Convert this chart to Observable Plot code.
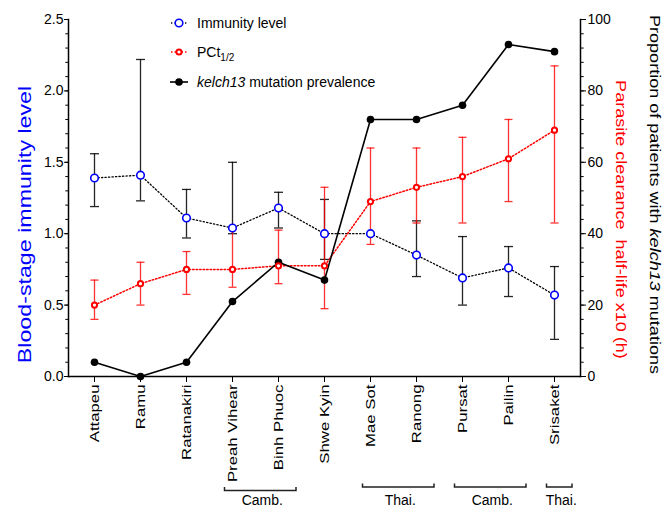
<!DOCTYPE html>
<html><head><meta charset="utf-8">
<script src="https://cdn.jsdelivr.net/npm/d3@7"></script>
<script src="https://cdn.jsdelivr.net/npm/@observablehq/plot@0.6"></script>
<style>
body{margin:0;background:#fff;}
#chart{width:664px;height:509px;}
</style>
</head><body><div id="chart"></div>
<script>
// ---- data ----
const sites = ["Attapeu","Ramu","Ratanakiri","Preah Vihear","Binh Phuoc","Shwe Kyin","Mae Sot","Ranong","Pursat","Pailin","Srisaket"];
// blood-stage immunity level (left axis) with error bar limits
const immunity = [1.39,1.41,1.11,1.04,1.18,1.00,1.00,0.85,0.69,0.76,0.57];
const immLow   = [1.19,1.23,0.97,1.00,1.04,0.82,null,0.70,0.50,0.56,0.26];
const immHigh  = [1.56,2.22,1.31,1.50,1.29,1.24,null,1.09,0.98,0.91,0.77];
// parasite clearance half-life x10 (h) (right axis) with error bar limits
const pct     = [20,26,30,30,31,31,49,53,56,61,69];
const pctLow  = [16,20,23,25,26,19,37,43,43,49,43];
const pctHigh = [27,32,35,42,41,53,64,64,67,72,87];
// proportion of patients with kelch13 mutations, % (right axis)
const kelch = [4,0,4,21,32,27,72,72,76,93,91];
// axis ticks
const leftTicks = [0,0.5,1,1.5,2,2.5];
const leftMinor = d3.range(0,26).map(i => i/10);
const rightTicks = [0,20,40,60,80,100];
const rightMinor = d3.range(0,26).map(i => i*4);
// region brackets under the axis
const regions = [
  {from:"Preah Vihear", to:"Binh Phuoc", label:"Camb."},
  {from:"Mae Sot", to:"Ranong", label:"Thai."},
  {from:"Pursat", to:"Pailin", label:"Camb."},
  {from:"Srisaket", to:"Srisaket", label:"Thai."}
];

const R = 2.5/100; // right axis (0–100) -> left axis (0–2.5)
const rows = sites.map((s,i) => ({
  site:s,
  imm:immunity[i], immLo:immLow[i], immHi:immHigh[i],
  pct:pct[i]*R, pctLo:pctLow[i]*R, pctHi:pctHigh[i]*R,
  kelch:kelch[i]*R
}));
const immErr = rows.filter(d => d.immLo != null);

const FONT = "'Liberation Sans', Arial, Helvetica, sans-serif";
const BLUE = "#0000ff", RED = "#ff0000";

// horizontal-dash symbol for error-bar caps (half-width = r)
const capSymbol = {draw(ctx, size){ const w = Math.sqrt(size/Math.PI); ctx.moveTo(-w,0); ctx.lineTo(w,0); }};

const plot = Plot.plot({
  width:664, height:509,
  marginLeft:68, marginRight:84, marginTop:19, marginBottom:133,
  style:{fontFamily:FONT, fontSize:"14px", background:"white", color:"black", overflow:"visible"},
  x:{type:"point", domain:sites, padding:0.5, axis:null},
  y:{domain:[0,2.5], axis:null},
  marks:[
    Plot.frame({anchor:"left", strokeWidth:1.5}),
    Plot.frame({anchor:"right", strokeWidth:1.5}),
    Plot.frame({anchor:"bottom", strokeWidth:1.5}),
    // error bars
    Plot.ruleX(immErr, {x:"site", y1:"immLo", y2:"immHi", stroke:"black", strokeOpacity:0.85, strokeWidth:1.3}),
    Plot.dot(immErr, {x:"site", y:"immLo", symbol:capSymbol, r:4.5, fill:"none", stroke:"black", strokeOpacity:0.85, strokeWidth:1.3}),
    Plot.dot(immErr, {x:"site", y:"immHi", symbol:capSymbol, r:4.5, fill:"none", stroke:"black", strokeOpacity:0.85, strokeWidth:1.3}),
    Plot.ruleX(rows, {x:"site", y1:"pctLo", y2:"pctHi", stroke:RED, strokeOpacity:0.8, strokeWidth:1.3}),
    Plot.dot(rows, {x:"site", y:"pctLo", symbol:capSymbol, r:4, fill:"none", stroke:RED, strokeOpacity:0.8, strokeWidth:1.3}),
    Plot.dot(rows, {x:"site", y:"pctHi", symbol:capSymbol, r:4, fill:"none", stroke:RED, strokeOpacity:0.8, strokeWidth:1.3}),
    // lines
    Plot.lineY(rows, {x:"site", y:"imm", stroke:"black", strokeWidth:1.3, strokeDasharray:"1.3,2.2"}),
    Plot.lineY(rows, {x:"site", y:"pct", stroke:RED, strokeWidth:1.5, strokeDasharray:"1.5,2"}),
    Plot.lineY(rows, {x:"site", y:"kelch", stroke:"black", strokeWidth:1.6}),
    // points
    Plot.dot(rows, {x:"site", y:"kelch", r:3.8, fill:"black", stroke:"none"}),
    Plot.dot(rows, {x:"site", y:"imm", r:3.8, fill:"white", stroke:BLUE, strokeWidth:1.6}),
    Plot.dot(rows, {x:"site", y:"pct", r:2.6, fill:"white", stroke:RED, strokeWidth:2}),
    // axes
    Plot.axisX({tickRotate:-90, tickSize:6, tickPadding:2, fontSize:13, label:null}),
    Plot.axisY(leftTicks, {tickSize:4, tickPadding:1, tickFormat:d3.format(".1f"), label:null, fontSize:14}),
    Plot.axisY(leftMinor, {tickSize:2.7, tickFormat:() => "", label:null}),
    Plot.axisY(rightTicks, {anchor:"right", y:d => d*R, tickSize:5, tickPadding:2, tickFormat:d => String(d), label:null, fontSize:14}),
    Plot.axisY(rightMinor, {anchor:"right", y:d => d*R, tickSize:2.7, tickFormat:() => "", label:null}),
    // axis titles
    Plot.text(["Blood-stage immunity level"], {frameAnchor:"left", dx:-43, dy:26.5, rotate:-90, fill:BLUE, fontSize:18, textAnchor:"middle"}),
    Plot.text(["Proportion of patients with kelch13 mutations"], {frameAnchor:"right", dx:73.7, dy:-3.5, rotate:90, fill:"black", fontSize:14, textAnchor:"middle"}),
    Plot.text(["Parasite clearance  half-life x10 (h)"], {frameAnchor:"right", dx:40, dy:21.5, rotate:90, fill:RED, fontSize:14, textAnchor:"middle"})
  ]
});

const svg = d3.select(plot);
const STRETCH = " scale(1.29,1)";
function stretch(el){ const t = el.getAttribute("transform") || ""; el.setAttribute("transform", t + STRETCH); }
// vertical texts in the reference are elongated along their reading direction
svg.selectAll("g[aria-label='x-axis tick label'] text").each(function(){ stretch(this); });
svg.selectAll("text").each(function(){
  const s = this.textContent;
  if (s === "Blood-stage immunity level" || s === "Parasite clearance  half-life x10 (h)") stretch(this);
  if (s === "Parasite clearance  half-life x10 (h)") this.style.whiteSpace = "pre";
  if (s === "Proportion of patients with kelch13 mutations") {
    stretch(this);
    const t = d3.select(this); t.text(null);
    t.append("tspan").text("Proportion of patients with ");
    t.append("tspan").attr("font-style","italic").text("kelch13");
    t.append("tspan").text(" mutations");
  }
});

// legend
const lg = svg.append("g").attr("font-family", FONT).attr("font-size", 14).attr("text-anchor","start");
const legendRows = [
  {y:23, kind:"imm"},
  {y:52, kind:"pct"},
  {y:82, kind:"kelch"}
];
legendRows.forEach(r => {
  const cx = 179;
  if (r.kind === "imm") {
    lg.append("line").attr("x1",171).attr("x2",187).attr("y1",r.y).attr("y2",r.y).attr("stroke","black").attr("stroke-width",1.3).attr("stroke-dasharray","1.3,2.2");
    lg.append("circle").attr("cx",cx).attr("cy",r.y).attr("r",3.8).attr("fill","white").attr("stroke",BLUE).attr("stroke-width",1.6);
    lg.append("text").attr("x",197).attr("y",r.y).attr("dy","0.35em").text("Immunity level");
  } else if (r.kind === "pct") {
    lg.append("line").attr("x1",171).attr("x2",187).attr("y1",r.y).attr("y2",r.y).attr("stroke",RED).attr("stroke-width",1.5).attr("stroke-dasharray","1.5,2");
    lg.append("circle").attr("cx",cx).attr("cy",r.y).attr("r",2.6).attr("fill","white").attr("stroke",RED).attr("stroke-width",2);
    const t = lg.append("text").attr("x",197).attr("y",r.y).attr("dy","0.35em");
    t.append("tspan").text("PCt");
    t.append("tspan").attr("font-size",10).attr("dy","4").text("1/2");
  } else {
    lg.append("line").attr("x1",170).attr("x2",188).attr("y1",r.y).attr("y2",r.y).attr("stroke","black").attr("stroke-width",1.6);
    lg.append("circle").attr("cx",cx).attr("cy",r.y).attr("r",3.8).attr("fill","black");
    const t = lg.append("text").attr("x",197).attr("y",r.y).attr("dy","0.35em");
    t.append("tspan").attr("font-style","italic").text("kelch13");
    t.append("tspan").text(" mutation prevalence");
  }
});

// region brackets
const xs = plot.scale("x");
const bg = svg.append("g").attr("font-family", FONT).attr("font-size", 14).attr("text-anchor","middle");
regions.forEach((g, i) => {
  const x1 = xs.apply(g.from) - 7.5, x2 = xs.apply(g.to) + 18;
  const y = i === 0 ? 490.5 : 487;
  bg.append("path").attr("d", `M${x1},${y-3.5}V${y}H${x2}V${y-3.5}`).attr("fill","none").attr("stroke","#222").attr("stroke-width",1.5);
  bg.append("text").attr("x",(x1+x2)/2 + 2).attr("y", i === 0 ? 505 : y + 18).attr("text-anchor","middle").text(g.label);
});

document.getElementById("chart").appendChild(plot);
</script>
</body></html>
